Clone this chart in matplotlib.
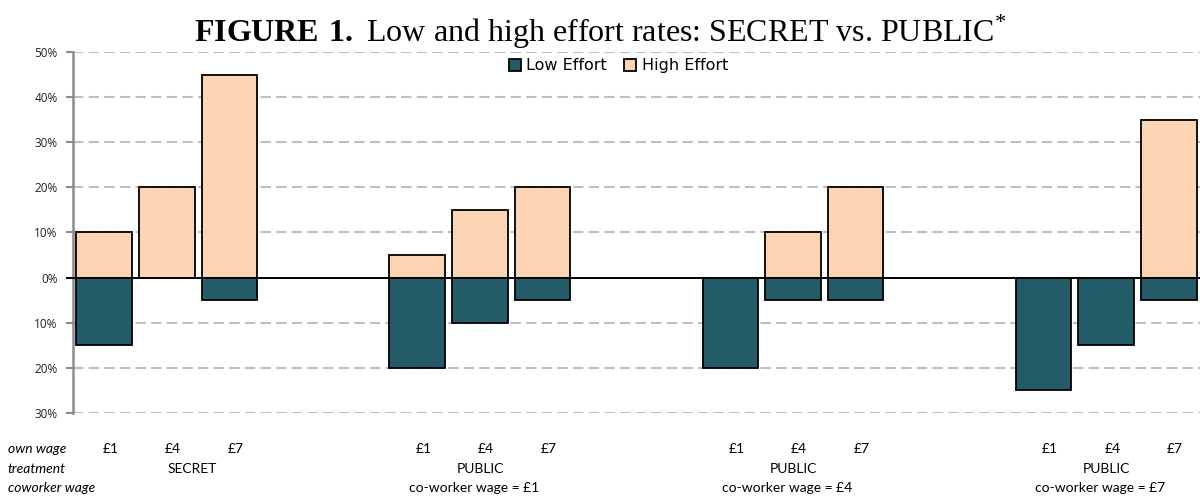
import matplotlib.pyplot as plt
import matplotlib.transforms as mtransforms
import numpy as np

plt.rcParams["mathtext.fontset"] = "custom"
plt.rcParams["mathtext.rm"] = "Liberation Serif"
plt.rcParams["mathtext.bf"] = "Liberation Serif:bold"

# values in percent, one per bar
own_wage = ["£1", "£4", "£7"]
treatments = ["SECRET", "PUBLIC", "PUBLIC", "PUBLIC"]
coworker = ["", "co-worker wage = £1", "co-worker wage = £4", "co-worker wage = £7"]
high_effort = [10, 20, 45, 5, 15, 20, 0, 10, 20, 0, 0, 35]
low_effort = [15, 0, 5, 20, 10, 5, 20, 5, 5, 25, 15, 5]
yticks = [-30, -20, -10, 0, 10, 20, 30, 40, 50]

low_col = "#245B69"
high_col = "#FCD5B5"

# bar slots: 3 bars per group, 2 empty slots between groups
xpos = np.array([g * 5 + k for g in range(4) for k in range(3)], dtype=float)

fig = plt.figure(figsize=(12, 4.98), dpi=100)
ax = fig.add_axes([0.0608, 0.1707, 0.9392, 0.7249])

w = 0.89
hv = np.array(high_effort)
lv = -np.array(low_effort)
hb = ax.bar(xpos, hv, width=w, color=high_col, edgecolor="black", linewidth=1.3, zorder=3)
lb = ax.bar(xpos, lv, width=w, color=low_col, edgecolor="black", linewidth=1.3, zorder=3)
# zero-height bars are not drawn in the reference
for b, v in zip(list(hb) + list(lb), list(hv) + list(lv)):
    if v == 0:
        b.set_visible(False)

ax.set_xlim(-0.5, 17.5)
ax.set_ylim(-30, 50)
ax.set_yticks(yticks)
ax.set_yticklabels(["%d%%" % abs(t) for t in yticks], fontsize=8.5, family="Open Sans", color="#222222")
ax.set_xticks([])
for t in yticks:
    if t != 0:
        ax.axhline(t, color="#BFBFBF", lw=1.5, ls=(0, (5, 2.5)), zorder=1)
ax.axhline(0, color="black", lw=1.4, zorder=4, xmin=-0.005, clip_on=False)

for s in ["top", "right", "bottom"]:
    ax.spines[s].set_visible(False)
ax.spines["left"].set_color("#8C8C8C")
ax.spines["left"].set_linewidth(1.8)
ax.tick_params(axis="y", length=5, width=1.5, color="#8C8C8C", pad=6)

leg = ax.legend([lb, hb], ["Low Effort", "High Effort"], loc="center",
                bbox_to_anchor=(0.484, 1 - (66 - 52) / 361), ncol=2, frameon=False,
                prop={"family": "DejaVu Sans", "size": 11.5},
                handlelength=0.75, handleheight=0.75, handletextpad=0.35, columnspacing=1.1)

# category labels below the axes
trans = mtransforms.blended_transform_factory(ax.transData, fig.transFigure)
row_y = [1 - 449 / 498, 1 - 469 / 498, 1 - 488 / 498]
lab_font = dict(family="Lato", fontsize=10, ha="center", va="center", transform=trans)
for i, x in enumerate(xpos):
    ax.text(x + 0.1, row_y[0], own_wage[i % 3], **lab_font)
for g in range(4):
    xc = g * 5 + 1
    if g == 0:
        xc = 1.4
    ax.text(xc, row_y[1], treatments[g], **lab_font)
    if coworker[g]:
        ax.text(g * 5 + 0.9, row_y[2], coworker[g], **lab_font)

side = ["own wage", "treatment", "coworker wage"]
for y, s in zip(row_y, side):
    fig.text(8 / 1200, y, s, family="Lato", style="italic", fontsize=10, va="center")

# title with bold prefix
fig.text(0.5, 1 - 32 / 498,
         r"$\mathbf{FIGURE\ 1.}$ Low and high effort rates: SECRET vs. PUBLIC$^{*}$",
         ha="center", va="center", fontsize=23, family="Liberation Serif")

fig.savefig("out.png", dpi=100)
